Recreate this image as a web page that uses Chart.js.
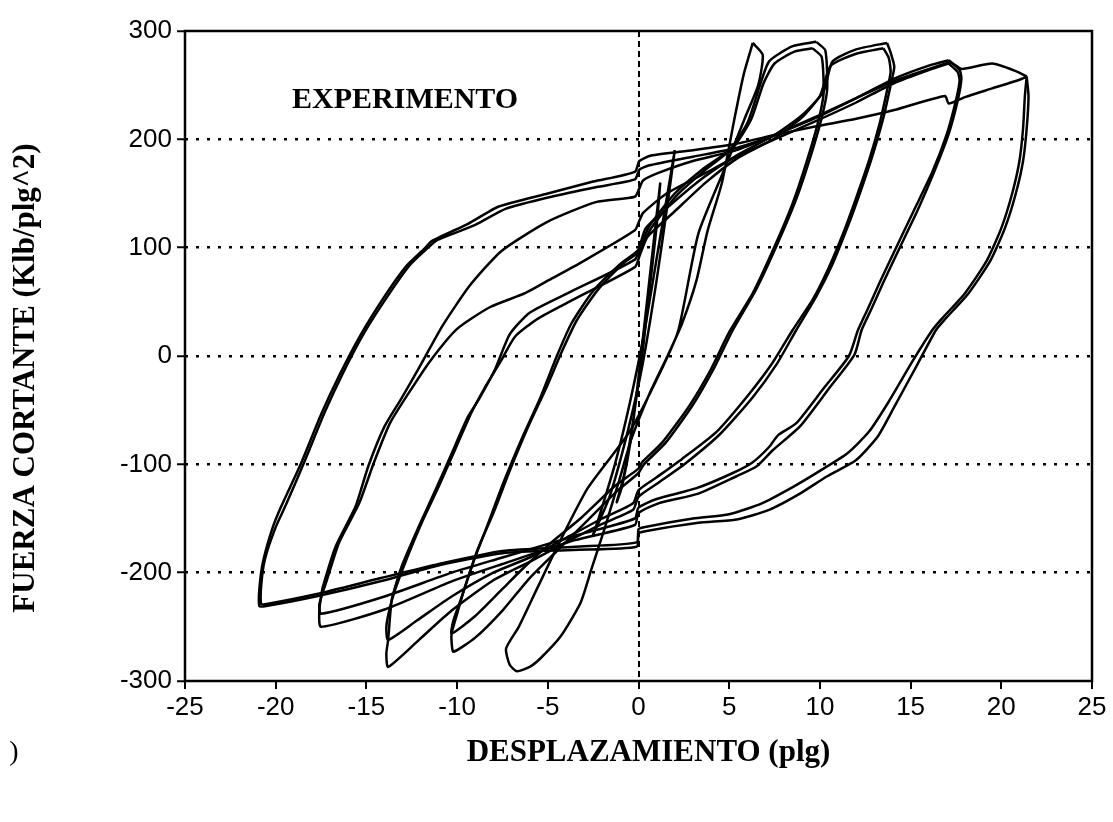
<!DOCTYPE html>
<html>
<head>
<meta charset="utf-8">
<script src="https://cdn.jsdelivr.net/npm/chart.js@4.4.1/dist/chart.umd.min.js"></script>
<style>
  html, body { margin: 0; padding: 0; background: #fff; }
  #wrap { width: 1113px; height: 822px; }
</style>
</head>
<body>
<div id="wrap"><canvas id="myChart" width="1113" height="822"></canvas></div>
<script>
var xTicks = [-25, -20, -15, -10, -5, 0, 5, 10, 15, 20, 25];
var yTicks = [-300, -200, -100, 0, 100, 200, 300];

// cycles at about +-21 plg
var loopA = [[21.4,258],[21.5,240],[21.4,210],[21.2,180],[20.8,150],[20.2,118],[19.4,88],[18.2,58],[16.9,34],[16.4,24],[15.4,-7],[14.1,-47],[13.2,-74],[12.0,-96],[10.4,-111],[8.9,-127],[7.2,-142],[5.4,-151],[3.3,-154],[0.3,-162],[0.0,-164],[-0.1,-176],[-3.6,-179],[-7.5,-182],[-11.2,-194],[-14.0,-207],[-17.8,-222],[-20.6,-231],[-20.9,-231],[-20.9,-215],[-20.7,-190],[-20.2,-160],[-19.7,-139],[-18.6,-99],[-17.5,-54],[-16.5,-18],[-15.3,20],[-14.0,55],[-12.8,83],[-11.8,99],[-11.4,106],[-9.4,122],[-7.7,138],[-5.0,150],[-2.5,161],[-0.2,170],[0.05,180],[0.7,185],[3.0,190],[5.4,196],[7.5,204],[9.8,212],[12.0,219],[14.1,227],[16.9,240],[17.1,233],[18.0,239],[19.5,247],[21.0,255],[21.4,258]];
var loopB = [[21.4,258],[21.3,240],[21.2,210],[21.0,180],[20.6,150],[20.0,118],[19.2,88],[18.0,58],[16.7,34],[16.2,24],[15.1,-5],[13.8,-42],[12.7,-70],[11.5,-90],[10.0,-106],[8.5,-121],[6.8,-136],[5.0,-146],[3.0,-150],[0.3,-158],[0.0,-160],[-0.1,-172],[-3.5,-176],[-7.5,-180],[-11.0,-192],[-14.2,-205],[-17.8,-220],[-20.5,-229],[-20.8,-229],[-20.8,-212],[-20.6,-188],[-20.0,-158],[-19.4,-136],[-18.4,-97],[-17.3,-52],[-16.3,-16],[-15.1,22],[-13.8,56],[-12.6,84],[-11.6,100],[-11.1,107],[-9.0,121],[-7.3,136],[-4.8,147],[-2.3,156],[-0.2,163],[0.05,172],[0.6,176],[3.0,184],[5.4,192],[7.5,204],[9.8,221],[12.0,238],[14.1,254],[16.2,266],[17.2,271],[17.8,265],[19.5,270],[20.8,263],[21.4,258]];

// cycles at about +-17.5 plg
var loopC = [[17.1,273],[17.7,264],[17.8,256],[17.6,236],[17.1,205],[16.3,170],[15.4,135],[14.4,100],[13.5,68],[12.8,42],[12.3,24],[11.9,1],[10.5,-30],[8.9,-65],[7.4,-87],[6.5,-102],[5.4,-111],[3.3,-127],[1.1,-136],[0.0,-145],[-0.2,-156],[-3.5,-170],[-7.5,-192],[-10.3,-208],[-14.0,-234],[-17.5,-250],[-17.6,-236],[-17.5,-222],[-17.4,-213],[-16.7,-176],[-15.6,-139],[-14.9,-102],[-14.0,-65],[-13.1,-40],[-12.0,-8],[-10.8,28],[-9.3,65],[-7.55,97],[-5.0,124],[-2.35,142],[-0.2,147],[0.05,155],[0.25,162],[1.1,169],[3.0,180],[5.4,190],[7.5,204],[9.8,220],[12.0,238],[14.1,256],[16.0,268],[17.1,273]];
var loopD = [[17.1,270],[17.6,262],[17.7,254],[17.5,236],[17.0,205],[16.2,170],[15.2,135],[14.2,100],[13.3,68],[12.6,42],[12.1,24],[11.6,0],[10.2,-30],[8.7,-62],[7.7,-73],[7.2,-84],[6.3,-98],[5.2,-108],[3.2,-122],[1.0,-132],[0.0,-140],[-0.2,-150],[-3.3,-165],[-7.5,-186],[-10.3,-200],[-14.0,-222],[-17.5,-238],[-17.6,-230],[-17.4,-218],[-17.2,-208],[-16.5,-172],[-15.4,-136],[-14.6,-99],[-13.7,-62],[-12.7,-35],[-11.5,-5],[-10.0,25],[-8.2,45],[-6.25,58],[-4.95,70],[-3.2,86],[-0.2,116],[0.05,125],[0.25,132],[1.55,150],[3.7,169],[5.4,184],[7.5,200],[9.8,217],[12.0,234],[14.1,252],[16.0,264],[17.1,270]];

// cycles at about +-14 plg
var loopE = [[13.7,289],[13.9,280],[14.1,267],[13.9,250],[13.5,220],[12.9,185],[12.2,150],[11.5,118],[10.7,85],[9.8,55],[8.7,24],[7.6,-8],[6.3,-38],[4.5,-72],[2.6,-99],[1.1,-117],[0.0,-130],[-0.3,-142],[-2.0,-155],[-4.0,-172],[-6.0,-190],[-8.0,-207],[-10.3,-235],[-12.1,-262],[-13.8,-287],[-13.9,-275],[-13.8,-262],[-13.6,-225],[-13.05,-194],[-12.1,-157],[-11.2,-124],[-10.3,-90],[-9.4,-56],[-8.8,-40],[-7.9,-12],[-7.1,20],[-6.0,40],[-3.9,58],[-0.2,89],[0.05,100],[0.4,118],[1.8,140],[3.6,165],[5.4,185],[7.5,204],[9.0,222],[10.2,244],[10.7,272],[12.0,283],[13.7,289]];
var loopF = [[13.5,284],[13.8,275],[13.9,262],[13.7,245],[13.3,215],[12.7,180],[12.0,146],[11.3,114],[10.5,82],[9.6,52],[8.5,24],[7.4,-6],[6.1,-35],[4.3,-70],[2.4,-95],[1.0,-112],[0.0,-124],[-0.3,-136],[-2.0,-150],[-4.0,-168],[-6.0,-186],[-8.0,-200],[-10.3,-222],[-12.2,-244],[-13.8,-262],[-13.9,-250],[-13.7,-232],[-13.4,-215],[-12.8,-188],[-11.9,-152],[-11.0,-120],[-10.1,-86],[-9.2,-52],[-8.5,-30],[-7.6,-5],[-6.8,18],[-5.5,35],[-3.6,52],[-0.2,82],[0.05,92],[0.5,110],[1.9,132],[3.7,160],[5.4,182],[7.5,201],[9.0,220],[10.0,240],[10.6,268],[12.0,279],[13.5,284]];

// cycles at about +-10 plg
var loopG = [[9.8,290],[10.3,282],[10.4,246],[10.1,220],[9.5,185],[8.7,145],[7.7,105],[6.5,62],[5.2,24],[4.2,-10],[3.0,-45],[1.5,-80],[0.3,-100],[0.0,-108],[-1.2,-125],[-3.0,-155],[-4.5,-180],[-6.0,-205],[-7.5,-235],[-9.0,-260],[-10.2,-273],[-10.3,-265],[-10.3,-256],[-10.0,-238],[-9.6,-215],[-9.1,-190],[-8.3,-155],[-7.4,-115],[-6.4,-75],[-5.4,-38],[-4.5,0],[-3.7,30],[-2.5,60],[-1.0,85],[0.0,98],[0.6,120],[2.0,150],[3.5,172],[5.0,190],[6.0,215],[6.7,250],[7.2,272],[8.5,286],[9.8,290]];
var loopH = [[9.6,284],[10.1,276],[10.2,242],[9.9,216],[9.3,181],[8.5,141],[7.5,101],[6.3,58],[5.0,22],[4.0,-12],[2.8,-46],[1.3,-80],[0.2,-98],[0.0,-104],[-1.3,-120],[-3.2,-150],[-4.8,-172],[-6.3,-195],[-7.5,-215],[-9.0,-240],[-10.3,-256],[-10.2,-244],[-9.8,-225],[-9.4,-205],[-8.9,-180],[-8.0,-145],[-7.1,-106],[-6.1,-66],[-5.1,-30],[-4.2,5],[-3.4,33],[-2.2,62],[-0.8,86],[0.0,96],[0.7,118],[2.1,148],[3.7,172],[5.2,192],[6.2,218],[6.9,252],[7.5,270],[8.6,281],[9.6,284]];

// cycle at about +-7 plg
var loopI = [[6.3,289],[6.85,278],[6.6,250],[5.9,221],[4.8,175],[3.3,113],[2.2,24],[1.2,-15],[-0.5,-70],[-2.8,-122],[-4.3,-170],[-5.6,-215],[-6.6,-250],[-7.3,-270],[-7.1,-285],[-6.7,-291],[-6.0,-287],[-5.4,-279],[-4.3,-259],[-3.2,-228],[-2.6,-197],[-1.9,-161],[-1.05,-114],[-0.4,-77],[0.6,-35],[1.6,0],[2.4,30],[3.2,70],[3.8,115],[4.6,160],[5.3,220],[5.8,260],[6.3,289]];

// small cycles near the origin
var loopJ = [[1.2,160],[1.0,120],[0.6,60],[0.2,0],[-0.3,-60],[-0.8,-110],[-1.2,-135],[-0.9,-120],[-0.4,-75],[0.0,-20],[0.4,40],[0.8,100],[1.2,160]];
var loopK = [[2.0,190],[1.6,140],[1.0,70],[0.2,-10],[-0.6,-70],[-1.6,-130],[-2.5,-165],[-2.2,-150],[-1.3,-100],[-0.5,-45],[0.3,20],[1.0,90],[1.6,150],[2.0,190]];

var allLoops = [loopA, loopB, loopC, loopD, loopE, loopF, loopG, loopH, loopI, loopJ, loopK];

function toPoints(arr) {
  return arr.map(function (p) { return { x: p[0], y: p[1] }; });
}

var frame = {
  id: 'frame',
  afterDraw: function (chart) {
    var ctx = chart.ctx;
    var a = chart.chartArea;
    var xs = chart.scales.x, ys = chart.scales.y;
    ctx.save();
    ctx.strokeStyle = '#000';
    ctx.lineWidth = 2.5;
    ctx.strokeRect(a.left, a.top, a.right - a.left, a.bottom - a.top);

    ctx.fillStyle = '#000';
    ctx.font = 'bold 30px "Liberation Serif", serif';
    ctx.textAlign = 'left';
    ctx.textBaseline = 'alphabetic';
    ctx.fillText('EXPERIMENTO', xs.getPixelForValue(-19.1), ys.getPixelForValue(229));

    ctx.font = 'bold 31px "Liberation Serif", serif';
    ctx.textAlign = 'center';
    ctx.textBaseline = 'middle';
    ctx.fillText('DESPLAZAMIENTO (plg)', (a.left + a.right) / 2 + 10, 753);

    ctx.font = '28px "Liberation Serif", serif';
    ctx.fillText(')', 14, 753);

    ctx.font = 'bold 31px "Liberation Serif", serif';
    ctx.translate(26, 378);
    ctx.rotate(-Math.PI / 2);
    ctx.fillText('FUERZA CORTANTE (Klb/plg^2)', 0, 0);
    ctx.restore();
  }
};

function draw() {
  var ctx = document.getElementById('myChart').getContext('2d');
  var datasets = allLoops.map(function (loop) {
    return {
      data: toPoints(loop),
      showLine: true,
      borderColor: '#000',
      borderWidth: 2.5,
      pointRadius: 0,
      tension: 0.2,
      fill: false
    };
  });
  var config = {
    type: 'scatter',
    data: { datasets: datasets },
    options: {
      responsive: false,
      animation: false,
      layout: { padding: { top: 31, right: 21, left: 0, bottom: 0 } },
      plugins: { legend: { display: false }, tooltip: { enabled: false } },
      scales: {
        x: {
          type: 'linear',
          min: -25,
          max: 25,
          afterBuildTicks: function (s) { s.ticks = xTicks.map(function (v) { return { value: v }; }); },
          afterFit: function (s) { s.height = 141; },
          ticks: {
            color: '#000',
            padding: 3,
            maxRotation: 0,
            font: { family: '"Liberation Sans", Arial, sans-serif', size: 26 },
            callback: function (v) { return String(v); }
          },
          border: { display: false, dash: [6, 4] },
          grid: {
            color: function (c) { return c.tick && c.tick.value === 0 ? '#000' : 'rgba(0,0,0,0)'; },
            lineWidth: 2,
            tickColor: '#000',
            tickLength: 8,
            tickWidth: 2
          }
        },
        y: {
          type: 'linear',
          min: -300,
          max: 300,
          afterBuildTicks: function (s) { s.ticks = yTicks.map(function (v) { return { value: v }; }); },
          afterFit: function (s) { s.width = 185; },
          ticks: {
            color: '#000',
            padding: 5,
            font: { family: '"Liberation Sans", Arial, sans-serif', size: 26 },
            callback: function (v) { return String(v); }
          },
          border: { display: false, dash: [3, 8] },
          grid: {
            color: function (c) { return c.tick && Math.abs(c.tick.value) === 300 ? 'rgba(0,0,0,0)' : '#000'; },
            lineWidth: 2.5,
            tickColor: '#000',
            tickLength: 8,
            tickWidth: 2
          }
        }
      }
    },
    plugins: [frame]
  };
  var myChart = new Chart(ctx, config);
}

window.onload = function () {
  draw();
};
</script>
</body>
</html>
